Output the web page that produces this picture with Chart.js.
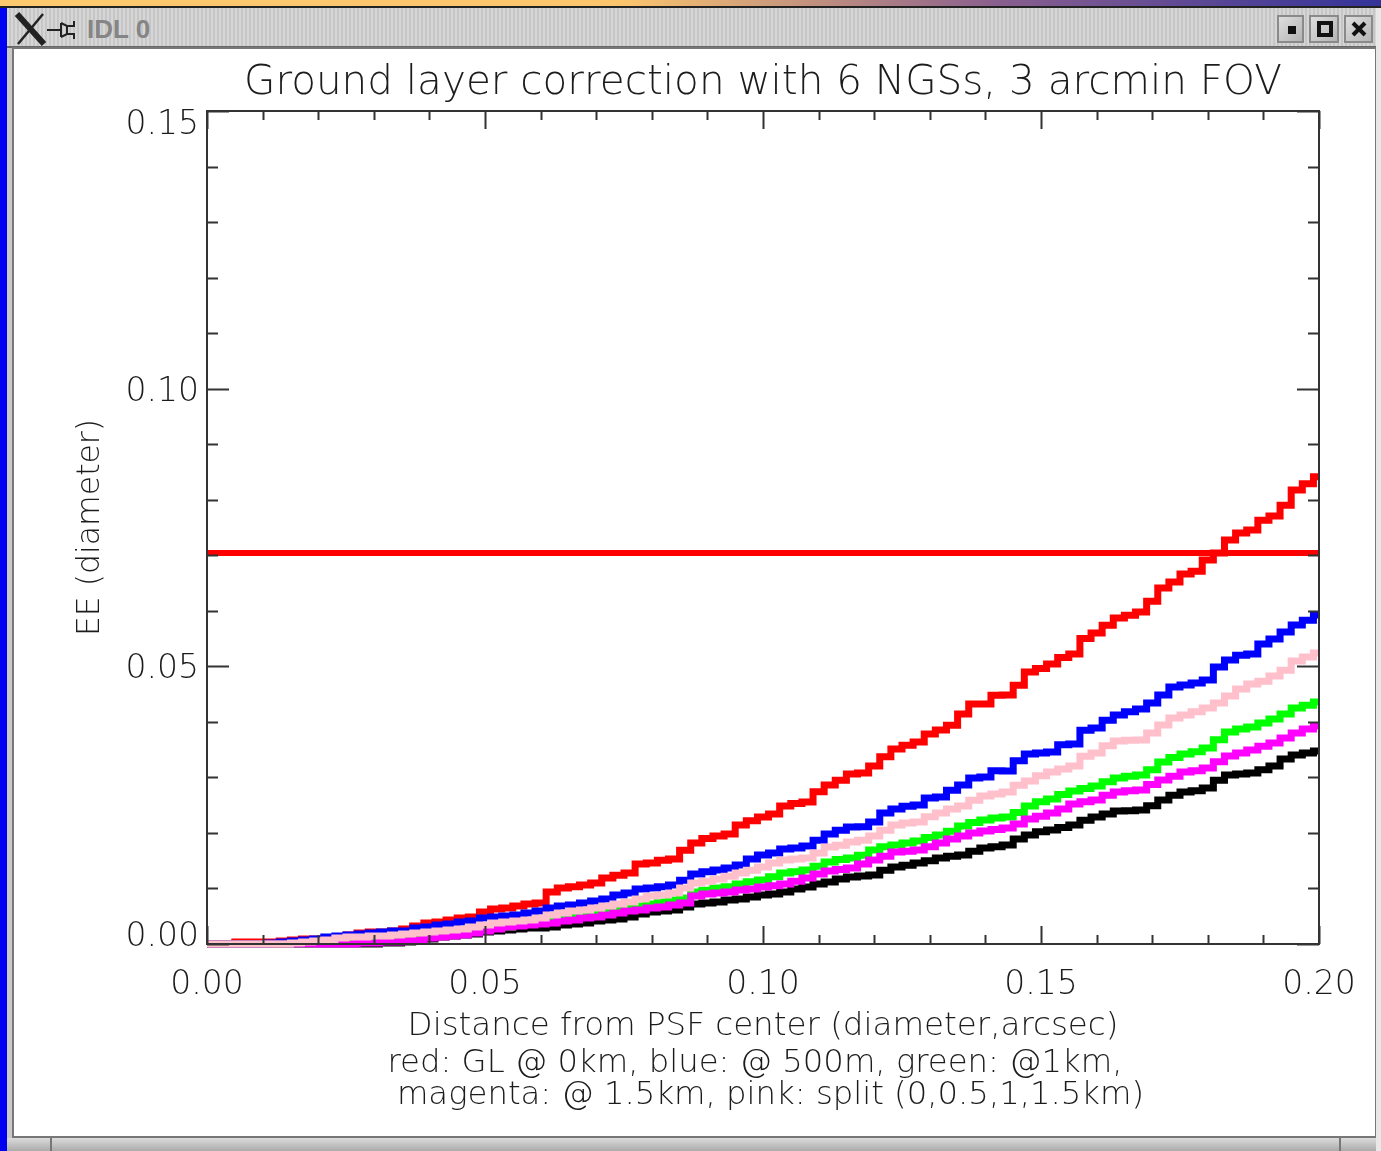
<!DOCTYPE html>
<html>
<head>
<meta charset="utf-8">
<title>IDL 0</title>
<style>
html,body{margin:0;padding:0;width:1381px;height:1151px;overflow:hidden;background:#fff}
.f{position:absolute;box-sizing:border-box}
#chartBox{position:absolute;left:0;top:0;width:1381px;height:1151px}
.btn{background:linear-gradient(135deg,#dedede,#b4b4b4);border:2px solid #8a8a8a;top:15px;height:28px}
</style>
<script src="https://cdn.jsdelivr.net/npm/chart.js@4"></script>
</head>
<body>
<div class="f" style="left:0;top:0;width:1381px;height:6px;background:linear-gradient(90deg,#fdc96e 0,#fbc56e 45%,#8a5f8e 72%,#333399 100%)"></div>
<div class="f" style="left:0;top:6px;width:1381px;height:2px;background:#222"></div>
<div class="f" style="left:0;top:8px;width:7px;height:1143px;background:#0000f0"></div>
<div class="f" style="left:7px;top:8px;width:1369px;height:1143px;background:#c9c9c9"></div>
<div class="f" style="left:7px;top:8px;width:1369px;height:40px;background:repeating-linear-gradient(90deg,#d6d6d6 0,#d6d6d6 2px,#c6c6c6 2px,#c6c6c6 4px);border-bottom:2px solid #666"></div>
<div class="f" style="left:12px;top:47px;width:1365px;height:1091px;background:#fff;border:2px solid #777"></div>
<div class="f" style="left:1376px;top:8px;width:5px;height:1143px;background:#e8e8e8"></div>
<div class="f" style="left:7px;top:1138px;width:1369px;height:13px;background:linear-gradient(#dcdcdc,#aaa)"></div>
<div class="f" style="left:50px;top:1138px;width:2px;height:13px;background:#777"></div>
<div class="f" style="left:1339px;top:1138px;width:2px;height:13px;background:#777"></div>
<svg class="f" style="left:14px;top:12px" width="70" height="36" viewBox="0 0 70 36">
  <path d="M3 2 L30 32" stroke="#222" stroke-width="6" fill="none"/>
  <path d="M29 2 L4 32" stroke="#222" stroke-width="2.5" fill="none"/>
  <path d="M33 18 H46" stroke="#222" stroke-width="2" fill="none"/>
  <path d="M47 11 L53 14 H60 V9 M47 25 L53 22 H60 V27 M47 11 V25 M53 14 V22" stroke="#222" stroke-width="2" fill="none"/>
</svg>
<div class="f" style="left:87px;top:12px;font:bold 26px 'Liberation Sans';color:#858585;line-height:34px">IDL 0</div>
<div class="f btn" style="left:1277px;width:27px"><div class="f" style="left:9px;top:9px;width:8px;height:8px;background:#111"></div></div>
<div class="f btn" style="left:1309px;width:30px"><div class="f" style="left:6px;top:4px;width:16px;height:16px;border:4px solid #111"></div></div>
<div class="f btn" style="left:1344px;width:29px"><svg class="f" style="left:5px;top:4px" width="16" height="16"><path d="M2 2L14 14M14 2L2 14" stroke="#111" stroke-width="4"/></svg></div>
<div id="chartBox"><canvas id="c" width="1381" height="1151"></canvas></div>
<script>
const titleText = "Ground layer correction with 6 NGSs, 3 arcmin FOV";
const xTitle = "Distance from PSF center (diameter,arcsec)";
const yTitle = "EE (diameter)";
const noteLines = ["red: GL @ 0km, blue: @ 500m, green: @1km,", "magenta: @ 1.5km, pink: split (0,0.5,1,1.5km)"];
// x samples: xValues carries the "A" readings, xMidValues the "B" readings in between
const xValues = [0,0.004,0.008,0.012,0.016,0.02,0.024,0.028,0.032,0.036,0.04,0.044,0.048,0.052,0.056,0.06,0.064,0.068,0.072,0.076,0.08,0.084,0.088,0.092,0.096,0.1,0.104,0.108,0.112,0.116,0.12,0.124,0.128,0.132,0.136,0.14,0.144,0.148,0.152,0.156,0.16,0.164,0.168,0.172,0.176,0.18,0.184,0.188,0.192,0.196,0.2];
const xMidValues = [0.002,0.006,0.01,0.014,0.018,0.022,0.026,0.03,0.034,0.038,0.042,0.046,0.05,0.054,0.058,0.062,0.066,0.07,0.074,0.078,0.082,0.086,0.09,0.094,0.098,0.102,0.106,0.11,0.114,0.118,0.122,0.126,0.13,0.134,0.138,0.142,0.146,0.15,0.154,0.158,0.162,0.166,0.17,0.174,0.178,0.182,0.186,0.19,0.194,0.198];
// EE values, in thousandths
const redA = [0,0,.36,.36,.72,.90,1.08,1.98,2.16,2.70,3.78,4.32,4.86,6.30,6.84,7.38,10.09,10.63,11.89,12.79,14.59,15.31,18.19,19.45,21.43,22.87,24.86,25.58,28.64,30.62,32.06,35.12,36.38,38.55,41.43,43.23,44.85,48.99,50.43,52.23,56.02,58.72,59.80,64.12,66.64,69.17,72.77,74.57,77.09,81.77,84.12];
const redB = [0,.36,.36,.54,.9,.9,1.62,2.16,2.34,3.24,3.96,4.68,5.76,6.48,7.2,9.36,10.3,11.0,12.4,14.4,15.1,16.9,19.0,19.8,22.2,23.4,25.3,27.4,29.5,30.8,33.7,35.8,37.8,39.4,43.2,44.8,46.6,49.6,51.6,55.0,57.4,59.2,61.7,65.2,67.1,70.4,74.0,76.3,79.0,82.9];
const blueA = [0,0,0,.18,.54,.90,1.44,1.80,2.16,2.34,3.06,3.60,4.14,4.86,5.22,5.94,6.84,7.38,8.11,9.19,10.09,10.63,12.61,13.33,14.23,16.03,17.11,17.65,19.81,21.07,21.97,24.32,25.04,26.48,28.64,30.08,31.16,34.22,34.58,36.02,38.91,41.25,42.33,44.85,46.65,47.55,51.15,52.23,54.94,57.46,59.26];
const blueB = [0,0,0,.36,.72,1.26,1.62,1.98,2.34,2.88,3.42,3.96,4.68,5.04,5.58,6.48,7.02,7.74,8.82,9.9,10.3,11.5,13.0,13.7,15.3,16.4,17.3,18.7,20.5,21.1,23.6,24.8,26.3,27.7,29.9,31.2,33.0,34.4,35.9,38.5,40.3,41.8,43.4,46.3,47.0,49.9,52.0,54.0,56.2,58.3];
const pinkA = [0,0,0,0,.18,.54,1.08,1.26,1.44,1.80,2.16,2.52,3.06,3.78,4.14,4.68,5.58,6.12,6.84,7.57,8.65,9.19,10.99,11.71,12.79,13.87,15.13,15.49,17.47,18.37,19.45,21.43,21.97,23.60,24.86,26.66,27.38,29.36,30.98,32.06,34.40,36.56,36.74,39.45,41.25,42.51,44.67,46.83,48.27,50.97,52.41];
const pinkB = [0,0,0,0,.36,.72,1.26,1.44,1.62,1.98,2.34,2.7,3.42,3.96,4.32,5.22,5.94,6.48,7.2,8.1,8.82,10.1,11.3,12.2,13.3,14.6,15.3,16.4,17.8,18.7,20.5,21.8,22.9,24.3,25.9,27.0,28.6,30.3,31.5,33.8,35.7,36.7,38.0,40.7,41.8,43.4,45.9,47.3,49.3,51.7];
const greenA = [0,0,0,0,0,.18,.36,.72,.90,1.26,1.62,1.98,2.34,2.88,3.42,4.14,4.86,5.40,6.12,6.48,7.20,7.93,9.37,10.09,10.81,11.53,12.79,13.33,14.77,15.49,16.93,17.83,18.55,19.63,21.25,22.33,22.87,24.86,26.12,27.56,28.46,29.90,30.44,32.78,34.22,35.30,38.18,39.09,40.53,42.51,43.59];
const greenB = [0,0,0,0,0,.18,.54,.9,1.08,1.44,1.8,2.16,2.52,3.06,3.78,4.5,5.04,5.76,6.3,6.84,7.56,8.3,9.7,10.3,11.2,12.1,13.0,14.0,15.2,16.0,17.5,18.2,19.2,20.3,21.9,22.7,23.7,25.6,26.9,28.0,29.2,30.2,31.4,33.6,34.6,36.8,38.7,39.8,41.4,43.0];
const magentaA = [0,0,0,0,0,0,0,.18,.36,.54,1.08,1.44,1.98,2.70,3.24,3.60,4.14,4.68,5.22,5.94,6.48,7.02,8.65,9.19,9.73,10.27,10.81,11.89,13.15,13.69,15.13,16.57,16.93,18.19,19.45,20.35,20.89,22.51,23.60,25.22,25.94,27.38,27.74,29.54,30.98,31.70,33.86,34.94,36.20,38.00,39.27];
const magentaB = [0,0,0,0,0,0,0,.18,.36,.72,1.26,1.62,2.34,3.06,3.42,3.78,4.32,4.86,5.58,6.12,6.66,7.38,9.0,9.36,9.9,10.5,11.3,12.6,13.4,14.4,15.8,16.7,17.5,18.9,20.0,20.6,21.6,23.0,24.3,25.6,26.8,27.6,28.7,30.2,31.2,32.8,34.4,35.6,37.1,38.7];
const blackA = [0,0,0,0,0,0,0,0,.18,.36,.90,1.44,1.80,2.34,2.70,2.88,3.42,3.78,4.32,4.86,5.76,6.12,7.20,7.57,8.11,8.83,9.37,10.27,11.17,12.07,12.43,13.87,14.59,15.49,16.03,17.29,17.83,19.63,20.53,21.43,22.87,23.96,24.14,25.94,27.38,28.10,30.44,30.80,32.06,34.04,34.76];
const blackB = [0,0,0,0,0,0,0,0,.18,.54,1.26,1.62,2.16,2.52,2.88,3.06,3.6,4.14,4.5,5.4,5.94,6.66,7.38,7.92,8.46,9.0,9.9,10.8,11.7,12.24,13.3,14.2,15.0,15.8,16.7,17.5,18.9,20.2,21.0,22.3,23.4,24.0,24.9,26.8,27.6,29.5,30.6,31.4,33.3,34.4];
const limitValue = 0.0704;
const xMajorTicks = [0,0.05,0.1,0.15,0.2];
const yMajorTicks = [0,0.05,0.1,0.15];

const FONT = "'DejaVu Sans ExtraLight','DejaVu Sans Light','DejaVu Sans'";
const INK = "#1c1c1c";
const pts = (a,b) => {
  const out = [];
  a.forEach((v,i)=>{
    out.push({x:xValues[i], y:v/1000});
    if (i < b.length) out.push({x:xMidValues[i], y:b[i]/1000});
  });
  return out;
};
const series = (label,color,a,b) => ({label,data:pts(a,b),borderColor:color,backgroundColor:color,borderWidth:7,stepped:'middle',pointRadius:0,fill:false,borderCapStyle:'butt',borderJoinStyle:'miter',clip:false});
const blanks = n => Array(n).fill('');
const yLabel = v => {
  const t = v.toFixed(2);
  if (v >= 0.15) return [...blanks(4), t];
  if (v <= 0) return [t, ...blanks(2)];
  return ['', t];
};

const frame = {
  id:'idlFrame',
  afterDraw(chart){
    const {ctx,chartArea:a,scales:{x,y}} = chart;
    ctx.save();
    ctx.strokeStyle = "#333"; ctx.lineWidth = 2;
    ctx.strokeRect(a.left,a.top,a.right-a.left,a.bottom-a.top);
    ctx.beginPath();
    for(let k=0;k<=20;k++){
      const v=k/100, px=Math.round(x.getPixelForValue(v))+0.5, len=k%5===0?18:9;
      ctx.moveTo(px,a.bottom); ctx.lineTo(px,a.bottom-len);
      ctx.moveTo(px,a.top); ctx.lineTo(px,a.top+len);
    }
    for(let k=0;k<=15;k++){
      const v=k/100, py=Math.round(y.getPixelForValue(v))+0.5, len=k%5===0?22:11;
      ctx.moveTo(a.left,py); ctx.lineTo(a.left+len,py);
      ctx.moveTo(a.right,py); ctx.lineTo(a.right-len,py);
    }
    ctx.stroke();
    ctx.fillStyle = INK;
    ctx.font = "32.3px "+FONT;
    ctx.textAlign = 'center'; ctx.textBaseline='middle';
    ctx.fillText(noteLines[0],755,1064);
    ctx.fillText(noteLines[1],770.5,1096);
    ctx.restore();
  }
};

new Chart(document.getElementById('c'),{
  type:'line',
  data:{datasets:[
    series('pink: split','#ffc0cb',pinkA,pinkB),
    series('magenta: @ 1.5km','#ff00ff',magentaA,magentaB),
    series('green: @1km','#00ff00',greenA,greenB),
    series('blue: @ 500m','#0000ff',blueA,blueB),
    series('red: GL @ 0km','#ff0000',redA,redB),
    series('black','#000000',blackA,blackB),
    {label:'limit',data:[{x:0,y:limitValue},{x:0.2,y:limitValue}],borderColor:'#ff0000',borderWidth:6,pointRadius:0}
  ]},
  options:{
    responsive:false,animation:false,
    layout:{padding:{left:0,right:62,top:0,bottom:0}},
    plugins:{
      legend:{display:false},tooltip:{enabled:false},
      title:{display:true,fullSize:false,text:titleText,color:INK,font:{family:FONT,size:40.5,weight:'normal',lineHeight:1.2},padding:{top:58.7,bottom:3.7}}
    },
    scales:{
      x:{type:'linear',min:0,max:0.2,
        afterFit(s){s.height=207;},
        grid:{display:false},border:{display:false},
        afterBuildTicks(s){s.ticks=xMajorTicks.map(v=>({value:v}));},
        ticks:{color:INK,font:{family:FONT,size:33},padding:14,maxRotation:0,autoSkip:false,callback:v=>v.toFixed(2)},
        title:{display:true,text:xTitle,color:INK,font:{family:FONT,size:32.5,lineHeight:1.2},padding:{top:0,bottom:104.5}}
      },
      y:{type:'linear',min:0,max:0.15,
        afterFit(s){s.width=207;},
        grid:{display:false},border:{display:false},
        afterBuildTicks(s){s.ticks=yMajorTicks.map(v=>({value:v}));},
        ticks:{color:INK,font:{family:FONT,size:33,lineHeight:'7px'},padding:0,autoSkip:false,callback:yLabel},
        title:{display:true,text:yTitle,color:INK,font:{family:FONT,size:31.5,lineHeight:1.2},padding:{top:72,bottom:0}}
      }
    }
  },
  plugins:[frame]
});
</script>
</body>
</html>
